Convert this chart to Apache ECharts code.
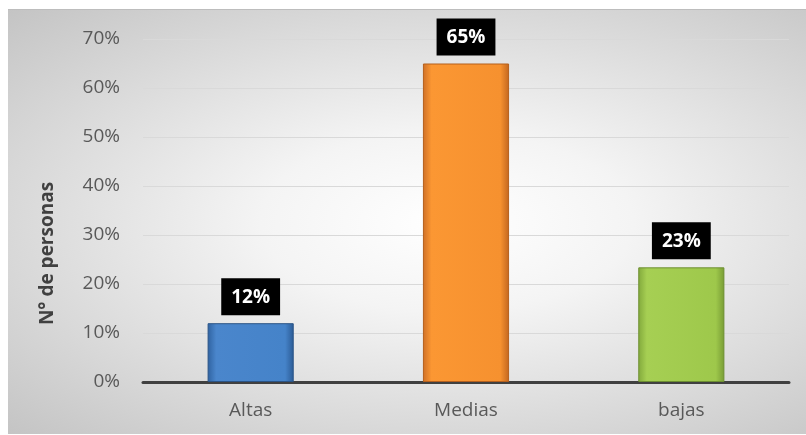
<!DOCTYPE html>
<html>
<head>
<meta charset="utf-8">
<style>
  html, body { margin: 0; padding: 0; background: #fff; }
  #frame {
    position: absolute; left: 8px; top: 9px; width: 798px; height: 424px;
    background: radial-gradient(ellipse farthest-corner at 55% 50%, #ffffff 0%, #f4f4f4 30%, #c4c4c4 100%);
    border-top: 1px solid #bdbdbd;
  }
  #main { position: absolute; left: 0; top: 0; width: 806px; height: 435px; }
</style>
<script src="https://cdn.jsdelivr.net/npm/echarts@6/dist/echarts.min.js"></script>
</head>
<body>
<div id="frame"></div>
<div id="main"></div>
<script>
// datos del grafico
var categorias = ['Altas', 'Medias', 'bajas'];
var valores = [0.12, 0.65, 0.234];
var colores = [
  ['#2f62a0', '#4a86cc', '#4583c9', '#2b5b95'],
  ['#cf7027', '#fb9733', '#f6912f', '#c2661f'],
  ['#82a93c', '#a6cf53', '#9ec84b', '#789c35']
];
var bordes = ['#2a5487', '#b5601d', '#6d8f31'];

var datos = valores.map(function (v, i) {
  return {
    value: v,
    itemStyle: {
      color: new echarts.graphic.LinearGradient(0, 0, 1, 0, [
        { offset: 0, color: colores[i][0] },
        { offset: 0.1, color: colores[i][1] },
        { offset: 0.9, color: colores[i][2] },
        { offset: 1, color: colores[i][3] }
      ]),
      borderColor: bordes[i],
      borderWidth: 1
    }
  };
});

var fuente = '"Open Sans", sans-serif';

var option = {
  animation: false,
  backgroundColor: 'transparent',
  grid: { left: 143, right: 17, top: 39, bottom: 53 },
  xAxis: {
    type: 'category',
    data: categorias,
    axisLine: { show: true, lineStyle: { color: '#404040', width: 3 } },
    axisTick: { show: false },
    axisLabel: { color: '#595959', fontSize: 19, fontFamily: fuente, margin: 19 }
  },
  yAxis: {
    type: 'value',
    min: 0,
    max: 0.7,
    interval: 0.1,
    name: 'N° de personas',
    nameLocation: 'middle',
    nameGap: 86,
    nameTextStyle: {
      color: '#404040', fontSize: 19, fontWeight: 'bold', fontFamily: fuente,
      padding: [0, 86, 0, 0]
    },
    axisLine: { show: false },
    axisTick: { show: false },
    axisLabel: {
      color: '#595959', fontSize: 19, fontFamily: fuente, margin: 23,
      formatter: function (v) { return Math.round(v * 100) + '%'; }
    },
    splitLine: { lineStyle: { color: '#d9d9d9', width: 1 } }
  },
  series: [{
    type: 'bar',
    data: datos,
    barWidth: '40%',
    label: {
      show: true,
      position: 'top',
      distance: 8,
      backgroundColor: '#000',
      color: '#fff',
      fontWeight: 'bold',
      fontSize: 19,
      fontFamily: fuente,
      padding: [10, 10, 8, 10],
      formatter: function (p) { return Math.round(p.value * 100) + '%'; }
    }
  }]
};

var myChart = echarts.init(document.getElementById('main'));
myChart.setOption(option);
</script>
</body>
</html>
